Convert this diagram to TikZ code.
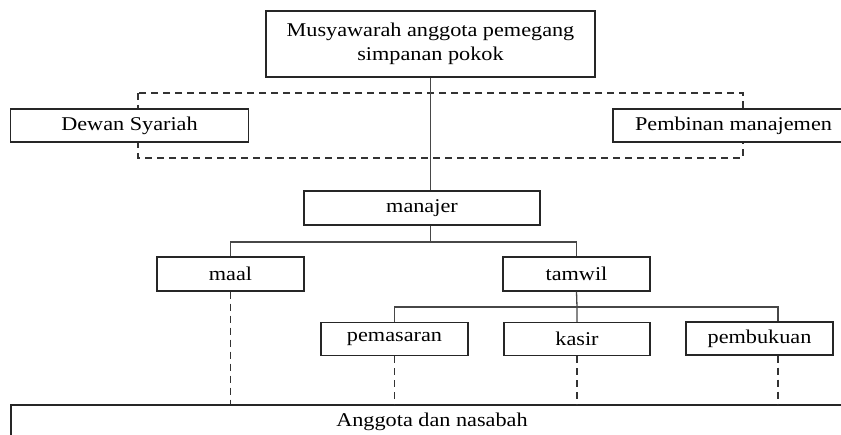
\documentclass[tikz,border=0pt]{standalone}
\usepackage{fontspec}
\setmainfont[FakeStretch=1.14]{Liberation Serif}

\tikzset{
    orgbox/.style={draw=black!85, line width=1.3pt, fill=white, text=black, inner sep=0pt,
        minimum height=33pt, font=\fontsize{19.5}{23.4}\selectfont},
    link/.style={draw=black!72, line width=1.3pt},
    dline/.style={draw=black!80, line width=1.3pt, dash pattern=on 7pt off 5pt}
}

\begin{document}
\begin{tikzpicture}[x=1pt, y=-1pt]
    \useasboundingbox (0,0) rectangle (841,435);
    \clip (0,0) rectangle (841,435);
    \draw[dline] (138,93) rectangle (743,158);
    \node (top) at (430.5,44) [orgbox, minimum width=329pt, minimum height=66pt, align=center]
        {Musyawarah anggota pemegang\\simpanan pokok};
    \node (dewan) at (129.5,125.5) [orgbox, minimum width=238pt] {Dewan Syariah};
    \node (pembinan) at (733.5,125.5) [orgbox, minimum width=241pt] {Pembinan manajemen};
    \node (manajer) at (422,208) [orgbox, minimum width=236pt, minimum height=34pt] {manajer};
    \node (maal) at (230.5,274) [orgbox, minimum width=147pt, minimum height=34pt] {maal};
    \node (tamwil) at (576.5,274) [orgbox, minimum width=147pt, minimum height=34pt] {tamwil};
    \node (pemasaran) at (394.5,339) [orgbox, minimum width=147pt] {pemasaran};
    \node (kasir) at (577,339) [orgbox, minimum width=146pt] {kasir};
    \node (pembukuan) at (759.5,338.5) [orgbox, minimum width=147pt] {pembukuan};
    \node (anggota) at (432,421.5) [orgbox, minimum width=842pt] {Anggota dan nasabah};
    \coordinate (fork1) at (430.5,242);
    \coordinate (fork2) at (577,307);
    \coordinate (pbx) at (778,307);
    \draw[link] (top.south) -- (top.south |- manajer.north);
    \draw[link] (top.south |- manajer.south) -- (fork1);
    \draw[link] (maal.north) |- (fork1) -| (tamwil.north);
    \draw[link] (tamwil.south) -- (fork2) -- (kasir.north);
    \draw[link] (pemasaran.north) |- (pbx) -- (pbx |- pembukuan.north);
    \draw[dline] (maal.south) -- (maal.south |- anggota.north);
    \draw[dline] (pemasaran.south) -- (pemasaran.south |- anggota.north);
    \draw[dline] (kasir.south) -- (kasir.south |- anggota.north);
    \draw[dline] (pbx |- pembukuan.south) -- (pbx |- anggota.north);
\end{tikzpicture}
\end{document}
